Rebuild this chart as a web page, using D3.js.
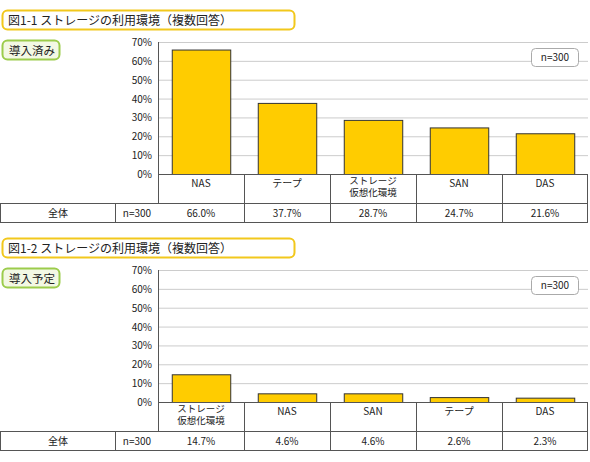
<!DOCTYPE html><html><head><meta charset="utf-8"><script src="https://cdn.jsdelivr.net/npm/d3@7"></script>
<style>body{margin:0;background:#fff}text{font-family:"Noto Sans CJK JP",sans-serif;font-size:10px;fill:#222}</style></head><body>
<svg id="c" width="590" height="462"></svg>
<script>
const titles=["図1-1 ストレージの利用環境（複数回答）","図1-2 ストレージの利用環境（複数回答）"];
const tags=["導入済み","導入予定"];
const cats1=["NAS","テープ","ストレージ\n仮想化環境","SAN","DAS"];
const vals1=[66.0,37.7,28.7,24.7,21.6];
const cats2=["ストレージ\n仮想化環境","NAS","SAN","テープ","DAS"];
const vals2=[14.7,4.6,4.6,2.6,2.3];
const ticks=[0,10,20,30,40,50,60,70];
const svg=d3.select("#c");
function panel(oy,title,tag,cats,vals){
 const g=svg.append("g").attr("transform",`translate(0,${oy})`);
 g.append("rect").attr("x",2.5).attr("y",10.5).attr("width",292).attr("height",19).attr("rx",5).attr("fill","#fff").attr("stroke","#f2c81c").attr("stroke-width",2);
 g.append("text").attr("x",8).attr("y",24.5).style("font-size","12px").text(title);
 g.append("rect").attr("x",2.5).attr("y",40.5).attr("width",57).attr("height",19).attr("rx",5).attr("fill","#f3f8e4").attr("stroke","#9ccc4c").attr("stroke-width",2);
 g.append("text").attr("x",9).attr("y",54.5).style("font-size","11.5px").text(tag);
 const x=d3.scaleBand().domain(cats).range([158,588]).paddingInner(0.32).paddingOuter(0.16);
 const cols=d3.scaleBand().domain(cats).range([158,588]);
 const y=d3.scaleLinear().domain([0,70]).range([174,42]);
 g.append("g").selectAll("line").data(ticks).join("line").attr("x1",158).attr("x2",588).attr("y1",d=>y(d)+.5).attr("y2",d=>y(d)+.5).attr("stroke",d=>d?"#ccc":"#555");
 g.append("g").selectAll("text").data(ticks).join("text").attr("x",152).attr("y",d=>y(d)+4).attr("text-anchor","end").text(d=>d+"%");
 g.append("line").attr("x1",158.5).attr("x2",158.5).attr("y1",42).attr("y2",174).attr("stroke","#555");
 g.append("g").selectAll("rect").data(vals).join("rect").attr("x",(d,i)=>x(cats[i])+.5).attr("width",x.bandwidth()).attr("y",d=>y(d)+.5).attr("height",d=>y(0)-y(d)).attr("fill","#ffcc00").attr("stroke","#333");
 g.append("rect").attr("x",531.5).attr("y",48.5).attr("width",47).attr("height",18).attr("rx",4).attr("fill","#fff").attr("stroke","#aaa");
 g.append("text").attr("x",555).attr("y",61).attr("text-anchor","middle").text("n=300");
 const t=g.append("g");
 t.append("rect").attr("x",158.5).attr("y",174.5).attr("width",429).attr("height",29).attr("fill","none").attr("stroke","#555");
 t.append("rect").attr("x",0.5).attr("y",203.5).attr("width",587).attr("height",19).attr("fill","none").attr("stroke","#555");
 t.append("line").attr("x1",115.5).attr("x2",115.5).attr("y1",203).attr("y2",223).attr("stroke","#555");
 cats.forEach((c,i)=>{
  const cx=cols(c)+cols.bandwidth()/2;
  if(i>0)t.append("line").attr("x1",cols(c)+.5).attr("x2",cols(c)+.5).attr("y1",174).attr("y2",223).attr("stroke","#555");
  const ls=c.split("\n");
  ls.forEach((l,j)=>t.append("text").attr("x",cx).attr("y",(ls.length>1?184:187)+j*12).attr("text-anchor","middle").style("font-size",ls.length>1?"9.5px":"10px").text(l));
  t.append("text").attr("x",cx).attr("y",217).attr("text-anchor","middle").text(vals[i].toFixed(1)+"%");
 });
 t.append("text").attr("x",58).attr("y",217).attr("text-anchor","middle").text("全体");
 t.append("text").attr("x",137).attr("y",217).attr("text-anchor","middle").text("n=300");
}
panel(0,titles[0],tags[0],cats1,vals1);
panel(228,titles[1],tags[1],cats2,vals2);
</script></body></html>
